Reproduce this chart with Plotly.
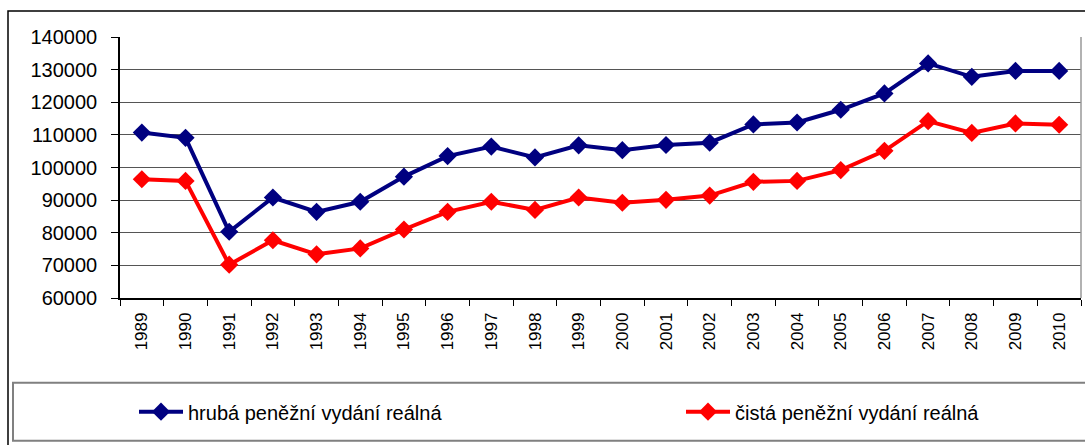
import plotly.graph_objects as go

years = [str(y) for y in range(1989, 2011)]
hruba = [110700, 109100, 80300, 90800, 86400, 89500, 97200, 103500, 106400, 103100, 106800,
         105300, 106900, 107600, 113200, 113800, 117700, 122700, 131900, 127800, 129600, 129600]
cista = [96400, 95900, 70200, 77700, 73400, 75200, 81000, 86400, 89500, 87000, 90800,
         89200, 90100, 91400, 95600, 95900, 99200, 105100, 114200, 110600, 113500, 113100]
names = ["hrubá peněžní vydání reálná", "čistá peněžní vydání reálná"]
colors = ["#000080", "#FF0000"]

W, H = 1085, 445
L, R, T, B = 120, 1081, 37, 298


def px_x(p):
    return (p - L) / (R - L)


def px_y(p):
    return (B - p) / (B - T)


fig = go.Figure()
for vals, name, col, lg in zip([hruba, cista], names, colors, ["legend", "legend2"]):
    fig.add_trace(go.Scatter(
        x=years, y=vals, name=name, mode="lines+markers",
        line=dict(color=col, width=4),
        marker=dict(symbol="diamond", size=14, color=col),
        legend=lg,
    ))

font = "Liberation Sans, Arial, sans-serif"

fig.update_layout(
    width=W, height=H,
    margin=dict(l=L, r=W - R, t=T, b=H - B),
    paper_bgcolor="white", plot_bgcolor="white",
    font=dict(family=font, color="black"),
    showlegend=True,
    legend=dict(x=px_x(134), xanchor="left", y=px_y(411.7), yanchor="middle",
                bgcolor="rgba(0,0,0,0)", font=dict(size=20, family=font),
                itemwidth=44),
    legend2=dict(x=px_x(681), xanchor="left", y=px_y(411.7), yanchor="middle",
                 bgcolor="rgba(0,0,0,0)", font=dict(size=20, family=font),
                 itemwidth=44),
    xaxis=dict(
        type="category", tickson="boundaries", ticks="outside", ticklen=6,
        tickcolor="black", tickwidth=1, showline=True, linecolor="black", linewidth=1.5,
        showgrid=False, tickangle=-90, tickfont=dict(size=17, family=font),
        ticklabelstandoff=6, range=[-0.5, len(years) - 0.5], fixedrange=True,
    ),
    yaxis=dict(
        range=[60000, 140000], dtick=10000, tickformat="d", ticks="outside",
        ticklen=7, tickcolor="black", showline=True, linecolor="black", linewidth=1.5,
        showgrid=True, gridcolor="#555555", gridwidth=1, zeroline=False,
        tickfont=dict(size=20, family=font), ticklabelstandoff=10,
    ),
    shapes=[
        # plot area right border
        dict(type="line", xref="paper", yref="paper", x0=1, x1=1, y0=0, y1=1,
             line=dict(color="#999999", width=1.5)),
        # outer chart border
        dict(type="rect", xref="paper", yref="paper",
             x0=px_x(8), x1=px_x(1092), y0=px_y(452), y1=px_y(11),
             line=dict(color="black", width=1.5), layer="below"),
        # legend box
        dict(type="rect", xref="paper", yref="paper",
             x0=px_x(13), x1=px_x(1092), y0=px_y(440.7), y1=px_y(382.7),
             line=dict(color="#808080", width=2), layer="below"),
    ],
)

fig.write_html("out.html", config={"displayModeBar": False},
               post_script="document.body.style.margin='0';")
